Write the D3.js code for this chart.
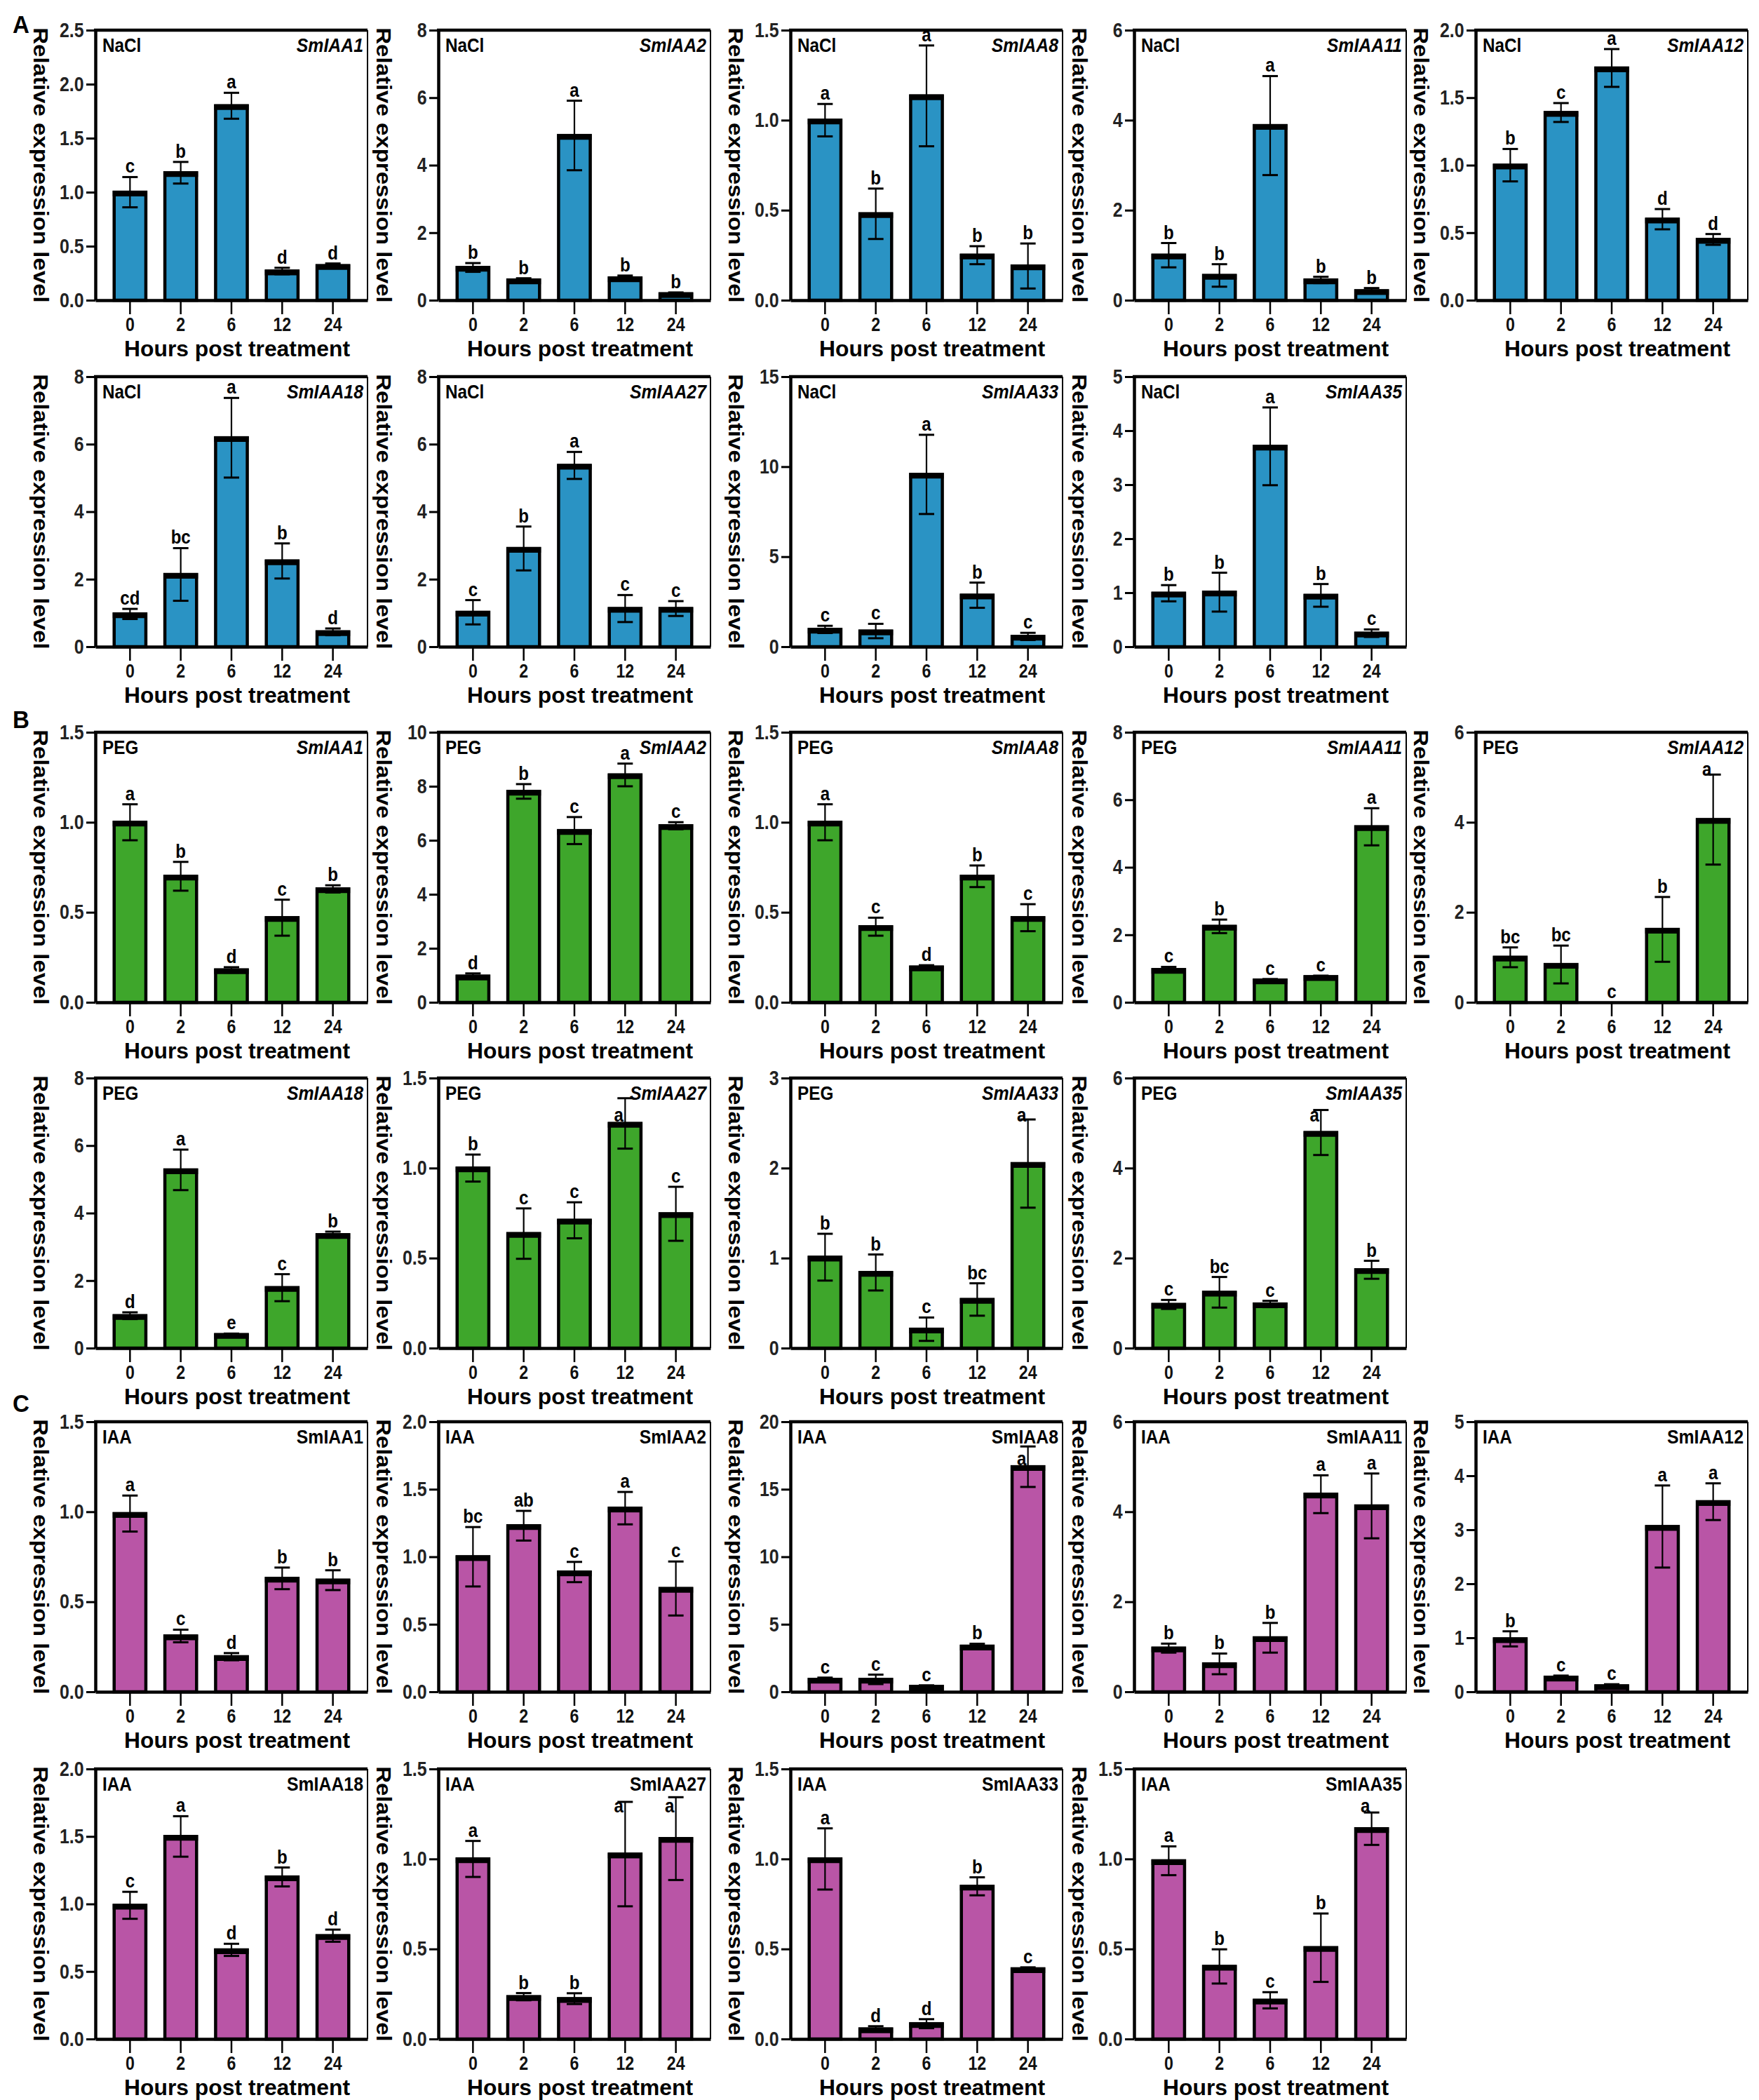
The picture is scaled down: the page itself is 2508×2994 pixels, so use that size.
<!DOCTYPE html>
<html>
<head>
<meta charset="utf-8">
<script src="https://cdn.jsdelivr.net/npm/d3@7"></script>
<style>
  body { margin: 0; background: #fff; }
  svg { display: block; font-family: "Liberation Sans", Arial, sans-serif; font-weight: bold; }
</style>
</head>
<body>
<div id="chart"></div>
<script>
const hours = ['0', '2', '6', '12', '24']
const genes = ['SmIAA1', 'SmIAA2', 'SmIAA8', 'SmIAA11', 'SmIAA12', 'SmIAA18', 'SmIAA27', 'SmIAA33', 'SmIAA35']
const treatments = ['NaCl', 'PEG', 'IAA']
const panelLetters = ['A', 'B', 'C']
const treatmentColors = ['#2a93c4', '#3ea62b', '#b955a6']

// axis max and tick step per gene
const naclYMax = [2.5, 8, 1.5, 6, 2.0, 8, 8, 15, 5]
const naclStep = [0.5, 2, 0.5, 2, 0.5, 2, 2, 5, 1]
const pegYMax = [1.5, 10, 1.5, 8, 6, 8, 1.5, 3, 6]
const pegStep = [0.5, 2, 0.5, 2, 2, 2, 0.5, 1, 2]
const iaaYMax = [1.5, 2.0, 20, 6, 5, 2.0, 1.5, 1.5, 1.5]
const iaaStep = [0.5, 0.5, 5, 2, 1, 0.5, 0.5, 0.5, 0.5]

const naclMean = [
  [1.0, 1.18, 1.80, 0.27, 0.32],
  [0.97, 0.60, 4.88, 0.66, 0.19],
  [1.0, 0.48, 1.135, 0.25, 0.19],
  [1.0, 0.55, 3.88, 0.45, 0.21],
  [1.0, 1.39, 1.72, 0.60, 0.45],
  [0.97, 2.14, 6.19, 2.54, 0.44],
  [1.02, 2.91, 5.37, 1.13, 1.13],
  [0.96, 0.87, 9.57, 2.86, 0.57],
  [0.99, 1.01, 3.71, 0.95, 0.25]
]
const naclSE = [
  [0.14, 0.10, 0.12, 0.03, 0.02],
  [0.13, 0.05, 1.03, 0.07, 0.04],
  [0.09, 0.14, 0.28, 0.05, 0.125],
  [0.27, 0.25, 1.10, 0.07, 0.06],
  [0.12, 0.07, 0.14, 0.075, 0.04],
  [0.15, 0.78, 1.18, 0.52, 0.10],
  [0.36, 0.65, 0.40, 0.40, 0.22],
  [0.20, 0.40, 2.20, 0.70, 0.20],
  [0.15, 0.36, 0.72, 0.21, 0.07]
]
const naclSig = [
  ['c', 'b', 'a', 'd', 'd'],
  ['b', 'b', 'a', 'b', 'b'],
  ['a', 'b', 'a', 'b', 'b'],
  ['b', 'b', 'a', 'b', 'b'],
  ['b', 'c', 'a', 'd', 'd'],
  ['cd', 'bc', 'a', 'b', 'd'],
  ['c', 'b', 'a', 'c', 'c'],
  ['c', 'c', 'a', 'b', 'c'],
  ['b', 'b', 'a', 'b', 'c']
]

const pegMean = [
  [1.0, 0.70, 0.18, 0.47, 0.63],
  [0.97, 7.81, 6.36, 8.42, 6.54],
  [1.0, 0.42, 0.196, 0.70, 0.47],
  [0.97, 2.25, 0.66, 0.76, 5.20],
  [1.0, 0.84, 0, 1.62, 4.06],
  [0.96, 5.28, 0.40, 1.79, 3.36],
  [1.0, 0.636, 0.71, 1.248, 0.746],
  [1.01, 0.84, 0.21, 0.54, 2.05],
  [0.97, 1.24, 0.98, 4.79, 1.74]
]
const pegSE = [
  [0.10, 0.08, 0.015, 0.10, 0.02],
  [0.10, 0.27, 0.50, 0.42, 0.13],
  [0.10, 0.05, 0.01, 0.06, 0.075],
  [0.08, 0.20, 0.03, 0.03, 0.55],
  [0.22, 0.42, 0, 0.72, 1.00],
  [0.10, 0.60, 0.03, 0.40, 0.09],
  [0.075, 0.14, 0.10, 0.14, 0.15],
  [0.26, 0.20, 0.13, 0.18, 0.49],
  [0.10, 0.34, 0.07, 0.50, 0.20]
]
const pegSig = [
  ['a', 'b', 'd', 'c', 'b'],
  ['d', 'b', 'c', 'a', 'c'],
  ['a', 'c', 'd', 'b', 'c'],
  ['c', 'b', 'c', 'c', 'a'],
  ['bc', 'bc', 'c', 'b', 'a'],
  ['d', 'a', 'e', 'c', 'b'],
  ['b', 'c', 'c', 'a', 'c'],
  ['b', 'b', 'c', 'bc', 'a'],
  ['c', 'bc', 'c', 'a', 'b']
]

const iaaMean = [
  [0.99, 0.31, 0.195, 0.63, 0.62],
  [1.0, 1.23, 0.887, 1.36, 0.765],
  [0.92, 0.92, 0.40, 3.38, 16.67],
  [0.97, 0.62, 1.20, 4.39, 4.13],
  [0.98, 0.27, 0.11, 3.06, 3.52],
  [0.99, 1.50, 0.66, 1.20, 0.765],
  [1.0, 0.235, 0.224, 1.027, 1.113],
  [1.0, 0.056, 0.085, 0.848, 0.39],
  [0.99, 0.403, 0.215, 0.507, 1.168]
]
const iaaSE = [
  [0.10, 0.035, 0.02, 0.06, 0.055],
  [0.22, 0.11, 0.075, 0.12, 0.20],
  [0.13, 0.35, 0.08, 0.18, 1.50],
  [0.10, 0.23, 0.33, 0.42, 0.72],
  [0.14, 0.03, 0.03, 0.76, 0.34],
  [0.10, 0.15, 0.045, 0.07, 0.045],
  [0.10, 0.02, 0.03, 0.29, 0.23],
  [0.17, 0.015, 0.025, 0.05, 0.008],
  [0.08, 0.095, 0.045, 0.19, 0.09]
]
const iaaSig = [
  ['a', 'c', 'd', 'b', 'b'],
  ['bc', 'ab', 'c', 'a', 'c'],
  ['c', 'c', 'c', 'b', 'a'],
  ['b', 'b', 'b', 'a', 'a'],
  ['b', 'c', 'c', 'a', 'a'],
  ['c', 'a', 'd', 'b', 'd'],
  ['a', 'b', 'b', 'a', 'a'],
  ['a', 'd', 'd', 'b', 'c'],
  ['a', 'b', 'c', 'b', 'a']
]

const series = [
  { yMax: naclYMax, step: naclStep, mean: naclMean, se: naclSE, sig: naclSig, italic: true },
  { yMax: pegYMax, step: pegStep, mean: pegMean, se: pegSE, sig: pegSig, italic: true },
  { yMax: iaaYMax, step: iaaStep, mean: iaaMean, se: iaaSE, sig: iaaSig, italic: false }
]

// page layout
const config = {
  width: 2508,
  height: 2994,
  colX: [136, 625, 1127, 1617, 2104],
  rowY: [43, 537, 1044, 1537, 2027, 2522],
  letterY: [47, 1038, 2013],
  panelW: 388,
  panelH: 385,
  squeeze: 0.86   // the original type is narrow
}

const svg = d3.select('#chart')
  .append('svg')
  .attr('width', config.width)
  .attr('height', config.height)

svg.append('rect').attr('width', config.width).attr('height', config.height).attr('fill', '#fff')

panelLetters.forEach((l, t) => {
  svg.append('text')
    .attr('transform', `translate(18, ${config.letterY[t]}) scale(0.92, 1)`)
    .style('font-size', '36px')
    .text(l)
})

// narrow text placed at (x, y)
const label = (parent, x, y, txt, size, anchor, sx) => parent.append('text')
  .attr('transform', `translate(${x}, ${y}) scale(${sx || config.squeeze}, 1)`)
  .attr('text-anchor', anchor || 'start')
  .style('font-size', size + 'px')
  .text(txt)

const drawPanel = (t, g) => {
  const s = series[t]
  const row = t * 2 + (g < 5 ? 0 : 1)
  const col = g < 5 ? g : g - 5
  const w = config.panelW, h = config.panelH
  const color = treatmentColors[t]
  const means = s.mean[g], errs = s.se[g], sig = s.sig[g]

  const p = svg.append('g')
    .attr('transform', `translate(${config.colX[col]}, ${config.rowY[row]})`)

  const x = d3.scaleBand().domain(hours).range([0, w]).paddingInner(0.375).paddingOuter(0.37)
  const y = d3.scaleLinear().domain([0, s.yMax[g]]).range([h, 0])

  const ticks = d3.range(0, s.yMax[g] + s.step[g] / 2, s.step[g])
  const fmt = s.step[g] < 1 ? d3.format('.1f') : d3.format('d')

  // y axis
  const ya = p.append('g')
    .call(d3.axisLeft(y).tickValues(ticks).tickFormat(fmt).tickSize(13).tickSizeOuter(0).tickPadding(6))
  ya.select('.domain').attr('stroke-width', 4.5)
  ya.selectAll('.tick line').attr('stroke-width', 3)
  ya.selectAll('.tick text')
    .attr('fill', '#222')
    .attr('transform', `scale(${config.squeeze}, 1)`)
    .style('font-size', '29px')
    .style('font-family', '"Liberation Sans", Arial, sans-serif')
    .style('font-weight', 'bold')

  // x axis
  const xa = p.append('g')
    .attr('transform', `translate(0, ${h})`)
    .call(d3.axisBottom(x).tickSize(20).tickSizeOuter(0).tickPadding(5))
  xa.select('.domain').attr('stroke-width', 4.5)
  xa.selectAll('.tick line').attr('stroke-width', 2.5)
  xa.selectAll('.tick text')
    .attr('fill', '#111')
    .attr('transform', `scale(${config.squeeze}, 1)`)
    .style('font-size', '27px')
    .style('font-family', '"Liberation Sans", Arial, sans-serif')
    .style('font-weight', 'bold')

  // frame: top and right
  p.append('line').attr('x1', -2).attr('x2', w).attr('y1', 0).attr('y2', 0)
    .attr('stroke', '#000').attr('stroke-width', 4.5)
  p.append('line').attr('x1', w).attr('x2', w).attr('y1', 0).attr('y2', h)
    .attr('stroke', '#000').attr('stroke-width', 2)

  const bars = hours.map((hr, i) => ({ hr, i, m: means[i], e: errs[i], l: sig[i] }))

  // bars
  p.selectAll('rect.bar')
    .data(bars)
    .enter()
    .append('rect')
    .attr('class', 'bar')
    .attr('x', d => x(d.hr))
    .attr('y', d => y(d.m))
    .attr('width', x.bandwidth())
    .attr('height', d => h - y(d.m))
    .attr('fill', color)
    .attr('stroke', '#000')
    .attr('stroke-width', 4.5)
    .attr('opacity', d => d.m > 0 ? 1 : 0)

  // heavier bar tops
  p.selectAll('line.top')
    .data(bars.filter(d => d.m > 0))
    .enter()
    .append('line')
    .attr('x1', d => x(d.hr) - 2)
    .attr('x2', d => x(d.hr) + x.bandwidth() + 2)
    .attr('y1', d => y(d.m) + 2)
    .attr('y2', d => y(d.m) + 2)
    .attr('stroke', '#000')
    .attr('stroke-width', 8)

  // error bars
  const cx = d => x(d.hr) + x.bandwidth() / 2
  const cap = 11
  const eb = p.selectAll('g.err')
    .data(bars.filter(d => d.e > 0))
    .enter()
    .append('g')
    .attr('stroke', '#000')
  eb.append('line')
    .attr('x1', cx).attr('x2', cx)
    .attr('y1', d => y(Math.max(0, d.m - d.e))).attr('y2', d => y(d.m + d.e))
    .attr('stroke-width', 2.2)
  eb.append('line')
    .attr('x1', d => cx(d) - cap).attr('x2', d => cx(d) + cap)
    .attr('y1', d => y(d.m + d.e)).attr('y2', d => y(d.m + d.e))
    .attr('stroke-width', 3)
  eb.append('line')
    .attr('x1', d => cx(d) - cap).attr('x2', d => cx(d) + cap)
    .attr('y1', d => y(Math.max(0, d.m - d.e))).attr('y2', d => y(Math.max(0, d.m - d.e)))
    .attr('stroke-width', 3)

  // treatment and gene labels
  label(p, 10, 31, treatments[t], 27, 'start', 0.9)
  const geneText = label(p, w - 6, 31, genes[g], 27, 'end', 0.92)
    .style('font-style', s.italic ? 'italic' : 'normal')
  const geneLeft = w - 6 - geneText.node().getComputedTextLength() * 0.92

  // significance letters; the ones that would run into the gene name sit just under it
  bars.forEach(d => {
    let ly = y(d.m + d.e) - 6
    let lx = cx(d)
    if (lx + 18 > geneLeft && ly < 62) {
      ly = 62
      lx -= 9
    }
    label(p, lx, ly, d.l, 28, 'middle')
  })

  // axis titles
  p.append('text')
    .attr('transform', `translate(-88, ${h / 2}) rotate(90) scale(1, 0.88)`)
    .attr('text-anchor', 'middle')
    .style('font-size', '33px')
    .text('Relative expression level')
  p.append('text')
    .attr('x', w / 2 + 8)
    .attr('y', h + 80)
    .attr('text-anchor', 'middle')
    .attr('textLength', 322)
    .attr('lengthAdjust', 'spacingAndGlyphs')
    .style('font-size', '32px')
    .text('Hours post treatment')
}

treatments.forEach((tr, t) => {
  genes.forEach((gn, g) => drawPanel(t, g))
})
</script>
</body>
</html>
